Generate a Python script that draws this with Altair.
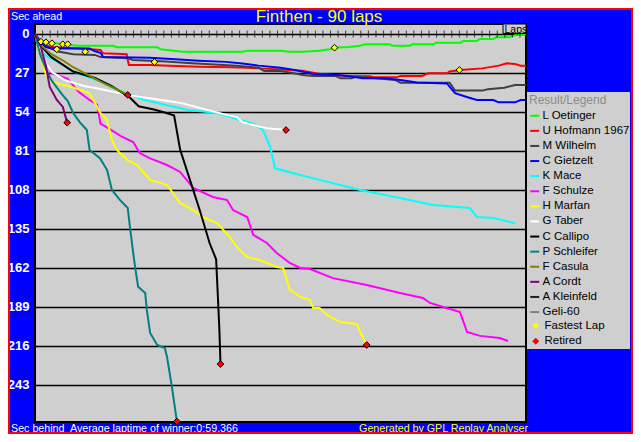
import altair as alt
import pandas as pd

FONT = "Liberation Sans"
GRAY = "#CFCFCF"

title_text = "Finthen - 90 laps"
drivers = ["L Oetinger", "U Hofmann 1967", "M Wilhelm", "C Gietzelt", "K Mace", "F Schulze",
           "H Marfan", "G Taber", "C Callipo", "P Schleifer", "F Casula", "A Cordt",
           "A Kleinfeld", "\u00a0\u00a0\u00a0Geli-60"]
colors = ["#00FF00", "#FF0000", "#404040", "#0000FF", "#00FFFF", "#FF00FF", "#FFFF00",
          "#FFFFFF", "#000000", "#008080", "#808000", "#800080", "#202020", "#808080"]

oetinger_laps = [0, 1, 2, 3, 5, 6.4, 7.7, 14.3, 15, 22.4, 23, 27, 38, 39, 45, 46.7, 49, 52, 54, 55.5,
                 57.5, 59.6, 60.5, 65, 65.5, 68.7, 69.2, 73, 73.5, 78, 78.5, 81, 81.5, 84, 84.5, 87, 88, 90]
oetinger_secs = [0, 5, 5.8, 6.3, 6.8, 7.6, 8.1, 8.1, 9.2, 9.2, 10.5, 12.3, 12.3, 11.6, 11.6, 12.3, 12.3, 11.6, 10.6, 9.3,
                 9.0, 8.1, 7.1, 7.1, 8.1, 8.1, 7.1, 7.1, 6.0, 6.0, 4.8, 4.8, 3.5, 3.5, 2.3, 2.3, 0.8, 0]

hofmann_laps = [0, 1, 2, 3, 8, 12, 12.5, 16.8, 17.2, 21, 26, 30, 36, 39, 41, 45, 49, 52, 57, 61.4,
                62, 66.3, 67, 71, 72, 75.5, 76, 78, 82, 85, 86.5, 88, 89, 90]
hofmann_secs = [0, 6, 8, 9, 10, 11, 13.4, 14, 21.5, 21.5, 22.2, 22.6, 23, 23.3, 23.8, 24.5, 25.4, 27.5, 29.0, 29.3,
                30, 30, 29, 29, 27.2, 27.2, 26, 25, 23.8, 21.9, 20.3, 20.8, 21.9, 21.9]

wilhelm_laps = [0, 1, 2, 4, 7, 11, 12, 17, 18, 24, 28, 32, 37, 41, 42, 45, 47, 49, 51, 55,
                56, 58, 59, 62, 66, 67, 76, 77, 82, 83, 86, 88, 90]
wilhelm_secs = [0, 5, 8, 12, 14, 14.5, 16, 16.8, 18, 19, 20, 21, 22, 23.3, 25.6, 25.6, 26.8, 28.4, 29, 29,
                30.7, 30.7, 29.5, 30.5, 31.8, 33.7, 33.7, 39.2, 39.2, 38.3, 37.2, 35.3, 35.3]

gietzelt_laps = [0, 1, 2, 3, 10, 11, 12, 12.5, 21, 25, 30, 35, 38, 41, 45, 47, 49, 51, 56, 58,
                 60, 64, 67, 70, 75.5, 77, 79, 81, 84, 85, 88, 89, 90]
gietzelt_secs = [0, 6, 9, 10, 10, 12, 13, 16, 16.5, 17.3, 18.5, 19.3, 20.5, 21.9, 23.3, 24.5, 26, 27.7, 28.5, 29.5,
                 30.7, 30.7, 31.8, 33.5, 34.2, 41, 43.4, 45.7, 45.7, 47.3, 47.3, 45.7, 45.7]

mace_laps = [0, 1, 2.7, 5, 7, 12, 14, 17.4, 20, 28, 33.4, 37.6, 40, 41.8, 43.1, 44, 48.6, 52.2, 59.6, 66.9,
             72.9, 79.7, 81, 84, 88]
mace_secs = [0, 12.5, 16.6, 21, 26, 33, 37, 42, 45.7, 52.6, 54.7, 59.5, 62, 66.5, 78, 93, 97.6, 101, 108, 113.5,
             118.4, 120.5, 126.7, 127.4, 131]

schulze_laps = [0, 1, 2, 3, 6, 8, 10, 11.4, 12, 14, 16, 18, 19.2, 21, 24.2, 26.6, 29, 32.6, 35.2, 36.3,
                38.9, 40, 42.5, 44.3, 46.7, 48.6, 50.4, 54.6, 60.8, 66.9, 71.1, 72.4, 77.9, 79.2, 81.6, 85.2, 86.7]
schulze_secs = [0, 12, 20, 27, 31, 40, 45.7, 49, 62, 66.5, 71.3, 74.8, 82.4, 85.9, 90.7, 95.5, 106.6, 112.8, 115, 121.9,
                126.7, 139, 144.7, 151.6, 158.5, 162, 162.7, 169, 173.8, 179.3, 182.8, 186.2, 192.5, 206.3, 209, 210.5, 212.5]

marfan_laps = [0, 1, 2, 3, 4, 7, 10, 12, 13.2, 14.1, 15, 16.9, 18.7, 21.1, 24.2, 26.6, 29, 30.8, 33.4, 35.7,
               37, 38.9, 41.2, 44.3, 45.5, 46.7, 48.6, 50.4, 51, 52.2, 53.5, 55.9, 59, 59.6, 60.8]
marfan_secs = [0, 15, 28, 33, 34, 37, 41, 54.7, 59.5, 73.4, 80.3, 87.2, 90.7, 101, 104.5, 117, 121.9, 126.7, 131, 140.5,
               147.5, 154.4, 156.5, 161.3, 162, 177, 182, 184, 189.7, 189.7, 194.5, 199.4, 200.8, 206.3, 215.3]

taber_laps = [0, 1, 2, 3, 5.5, 9, 11.3, 17.4, 22, 27, 31, 35.7, 37, 38, 41, 43, 46]
taber_secs = [0, 10, 20, 26, 32, 36, 37.6, 42.5, 45, 48, 52, 56.5, 57.5, 61, 64, 65.5, 66.5]

callipo_laps = [0, 1, 3, 7, 11, 14, 17.4, 19, 22, 24.7, 25.5, 26.6, 28.4, 30.2, 32, 33.2, 33.5, 33.8, 34]
callipo_secs = [0, 8, 16, 26, 30.5, 36, 44, 50, 52.5, 55.4, 56.5, 80, 101, 122, 144.7, 156, 180, 205, 228.5]

schleifer_laps = [0, 1, 2, 3, 5, 6, 7, 8.2, 9.5, 10, 11.9, 13.2, 14.1, 15.6, 17, 17.4, 18, 18.3, 18.9, 20.2,
                  20.5, 21.1, 22.4, 23.8, 24.2, 25.1, 25.7, 26]
schleifer_secs = [0, 15, 24, 32, 42, 46.5, 54.7, 61, 66.5, 80.3, 86, 94, 108, 115, 120.5, 133.6, 151.6, 160, 175, 179.3,
                  191, 207, 215.3, 217.4, 223.6, 244.4, 260.3, 268]

casula_laps = [0, 1, 3, 5, 7, 9.5, 12, 14.5, 17]
casula_secs = [0, 7.6, 14, 18, 23, 28, 33, 37.5, 42.2]

cordt_laps = [0, 1, 2, 2.7, 4, 5.1, 5.5, 5.9]
cordt_secs = [0, 8, 22, 36.7, 45.7, 50.5, 56, 61.4]

fastest_laps = [1.1, 2.0, 3.1, 4.0, 5.1, 6.0, 9.2, 21.9, 54.9, 77.8]
fastest_secs = [5.3, 5.7, 6.4, 10.6, 7.1, 7.1, 12.3, 19.4, 9.5, 24.9]
retired_laps = [5.9, 17.0, 26.0, 34.0, 46.0, 60.8]
retired_secs = [61.4, 42.2, 268.3, 228.5, 66.5, 215.3]
marker_kinds = ["Fastest Lap", "Retired"]
marker_colors = ["#FFFF00", "#FF0000"]

y_ticks = [0, 27, 54, 81, 108, 135, 162, 189, 216, 243, 270]
lap_ticks = [round(i * 90 / 64.8, 3) for i in range(65)]

series = [
    (drivers[0], oetinger_laps, oetinger_secs),
    (drivers[1], hofmann_laps, hofmann_secs),
    (drivers[2], wilhelm_laps, wilhelm_secs),
    (drivers[3], gietzelt_laps, gietzelt_secs),
    (drivers[4], mace_laps, mace_secs),
    (drivers[5], schulze_laps, schulze_secs),
    (drivers[6], marfan_laps, marfan_secs),
    (drivers[7], taber_laps, taber_secs),
    (drivers[8], callipo_laps, callipo_secs),
    (drivers[9], schleifer_laps, schleifer_secs),
    (drivers[10], casula_laps, casula_secs),
    (drivers[11], cordt_laps, cordt_secs),
]

rows = []
for name, laps, secs in series:
    for l, s in zip(laps, secs):
        rows.append({"driver": name, "lap": l, "sec": s})
lines_df = pd.DataFrame(rows)

pts = []
for l, s in zip(fastest_laps, fastest_secs):
    pts.append({"kind": marker_kinds[0], "lap": l, "sec": s})
for l, s in zip(retired_laps, retired_secs):
    pts.append({"kind": marker_kinds[1], "lap": l, "sec": s})
points_df = pd.DataFrame(pts)

ticks_df = pd.DataFrame({"lap": lap_ticks, "sec": [0] * len(lap_ticks)})
one = pd.DataFrame({"k": [0]})

xscale = alt.Scale(domain=[0, 90], nice=False, zero=False)
yscale = alt.Scale(domain=[-6.92, 268.62], reverse=True, nice=False, zero=False)

yaxis = alt.Axis(values=y_ticks, grid=True, gridColor="black", gridWidth=1.5, gridOpacity=1,
                 domain=False, ticks=False, labelColor="white", labelFont=FONT, labelFontSize=13,
                 labelFontWeight="bold", labelPadding=6, title=None, labelFlush=False,
                 labelOverlap=False)


def Y():
    return alt.Y("sec:Q", scale=yscale, axis=yaxis)


def X():
    return alt.X("lap:Q", scale=xscale, axis=None)


legend1 = alt.Legend(orient="none", legendX=494, legendY=71, title="Result/Legend",
                     titleColor="#8C8C8C", titleFont=FONT, titleFontSize=12, titleFontWeight="normal",
                     titlePadding=3, symbolType="stroke", symbolSize=81, symbolStrokeWidth=2,
                     labelFont=FONT, labelFontSize=11.5, labelColor="black", labelOffset=2,
                     rowPadding=2.1, padding=0, labelLimit=200)
legend2 = alt.Legend(orient="none", legendX=495, legendY=296, title=None,
                     symbolType="diamond", symbolSize=49, symbolStrokeColor="black", symbolStrokeWidth=1,
                     labelFont=FONT, labelFontSize=11.5, labelColor="black", labelOffset=3,
                     rowPadding=2.5, padding=0)

legend_bg = alt.Chart(one).mark_rect(color=GRAY).encode(
    x=alt.value(492), x2=alt.value(595), y=alt.value(68), y2=alt.value(325))

lines = alt.Chart(lines_df).mark_line(strokeWidth=2).encode(
    x=X(), y=Y(),
    color=alt.Color("driver:N", scale=alt.Scale(domain=drivers, range=colors), legend=legend1),
    order=alt.Order("lap:Q"),
)

ticks = alt.Chart(ticks_df).mark_tick(color="black", thickness=1, size=7, orient="vertical").encode(
    x=X(), y=Y(),
)

points = alt.Chart(points_df).mark_point(filled=True, size=45, stroke="black", strokeWidth=1, opacity=1).encode(
    x=X(), y=Y(),
    fill=alt.Fill("kind:N", scale=alt.Scale(domain=marker_kinds, range=marker_colors), legend=legend2),
    shape=alt.Shape("kind:N", scale=alt.Scale(domain=marker_kinds, range=["diamond", "diamond"]), legend=legend2),
)

laps_box = alt.Chart(one).mark_rect(color=GRAY, stroke="black", strokeWidth=1).encode(
    x=alt.value(468), x2=alt.value(491), y=alt.value(0), y2=alt.value(9.5))


def label(text, x, y, color, size, align="left", weight="normal"):
    return alt.Chart(one).mark_text(text=text, align=align, baseline="alphabetic", color=color,
                                    font=FONT, fontSize=size, fontWeight=weight).encode(
        x=alt.value(x), y=alt.value(y))


texts = [
    label("Laps", 469.5, 8.5, "black", 10.5),
    label(title_text, 284, -2.5, "#FFFF00", 17, align="center"),
    label("Sec ahead", -24, -4, "white", 10.7),
    label("Sec behind", -24, 407.5, "white", 10.7),
    label("Average laptime of winner:0:59.366", 35, 407.5, "white", 10.7),
    label("Generated by GPL Replay Analyser", 493, 407.5, "#FFFF00", 10.7, align="right"),
]

frame = alt.Chart(one).mark_rect(fillOpacity=0, stroke="#FF0000", strokeWidth=2).encode(
    x=alt.value(-26), x2=alt.value(597), y=alt.value(-15), y2=alt.value(409))

chart = alt.layer(legend_bg, lines, points, ticks, laps_box, *texts, frame).properties(
    width=491, height=398,
    autosize=alt.AutoSizeParams(type="none"),
    padding={"left": 27, "top": 16, "right": 107, "bottom": 12},
    background="#0000FF",
).configure_view(fill=GRAY, stroke="black", strokeWidth=2)

chart.save("out.html", embed_options={"renderer": "svg", "actions": False})
